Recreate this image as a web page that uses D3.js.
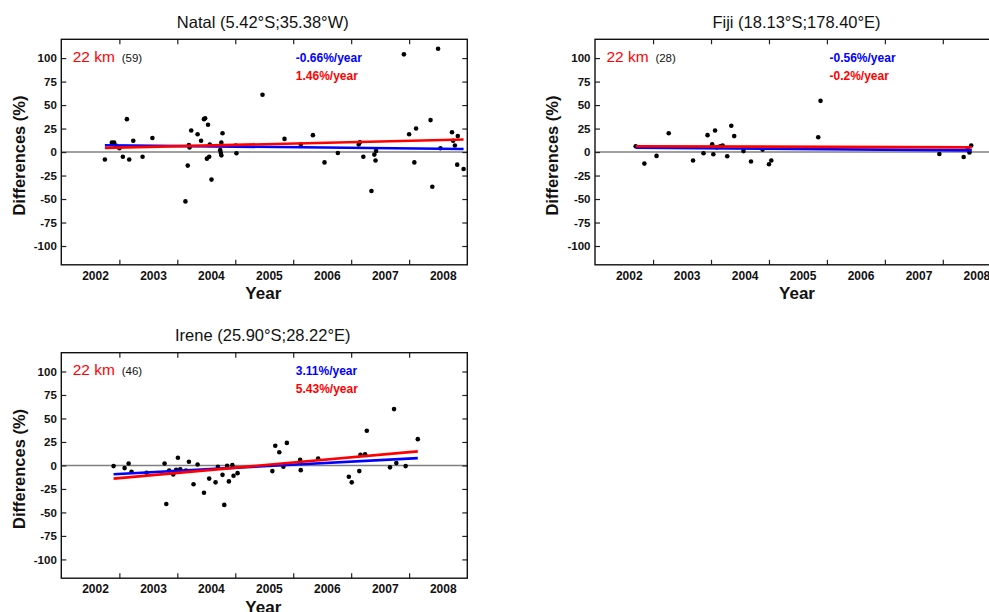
<!DOCTYPE html>
<html><head><meta charset="utf-8">
<script src="https://cdn.jsdelivr.net/npm/d3@7"></script>
<style>body{margin:0;background:#fff;} svg{display:block;font-family:Arial,"Liberation Sans",sans-serif;}</style>
</head><body>
<svg id="c" width="989" height="612"></svg>
<script>
// ---- data ----
const yearLabels = [2002, 2003, 2004, 2005, 2006, 2007, 2008];
const yearTicks = [2002.42, 2003.42, 2004.42, 2005.42, 2006.42, 2007.42];
const yTicks = [-100, -75, -50, -25, 0, 25, 50, 75, 100];
const xDomain = [2001.418, 2008.424];
const yDomain = [-120, 120];

const titles = ["Natal (5.42°S;35.38°W)", "Fiji (18.13°S;178.40°E)", "Irene (25.90°S;28.22°E)"];
const altitudeLabel = "22 km";
const counts = ["(59)", "(28)", "(46)"];
const blueRates = ["-0.66%/year", "-0.56%/year", "3.11%/year"];
const redRates = ["1.46%/year", "-0.2%/year", "5.43%/year"];

const natalX = [2002.17, 2002.29, 2002.33, 2002.36, 2002.42, 2002.55, 2002.48, 2002.59, 2002.66, 2002.82,
  2002.99, 2003.56, 2003.60, 2003.63, 2003.62, 2003.66, 2003.77, 2003.83, 2003.88, 2003.90,
  2003.95, 2003.98, 2003.93, 2003.97, 2004.01, 2004.20, 2004.18, 2004.16, 2004.17, 2004.18,
  2004.44, 2004.43, 2004.89, 2005.27, 2005.55, 2005.76, 2005.96, 2006.19, 2006.55, 2006.57,
  2006.63, 2006.77, 2006.82, 2006.84, 2006.85, 2007.33, 2007.42, 2007.54, 2007.51, 2007.79,
  2007.82, 2007.92, 2007.96, 2008.16, 2008.18, 2008.21, 2008.26, 2008.25, 2008.36];
const natalY = [-8, 10, 10, 7, 4, 35, -5, -8, 12, -5,
  15, -52.5, -14.4, 4.8, 7.5, 23, 19, 12, 35, 36,
  29, 8, -7, -5, -29.3, 20, 10, 2, -1, -3.5,
  -1.3, 7, 61, 14, 8, 18, -11, -1, 8, 10.5,
  -5, -41.5, -2.7, -9, 1.2, 104, 19, 25, -11, 34,
  -37, 110, 4, 21, 12, 7, 17, -13.4, -18];
const natalTrendX = [2002.17, 2008.36];
const natalBlue = [7.2, 3.3];
const natalRed = [4.4, 13.3];

const fijiX = [2002.12, 2002.27, 2002.48, 2002.69, 2003.11, 2003.29, 2003.36, 2003.44, 2003.46, 2003.49,
  2003.58, 2003.62, 2003.70, 2003.77, 2003.82, 2003.98, 2004.11, 2004.31, 2004.42, 2004.46,
  2005.31, 2005.27, 2007.36, 2007.78, 2007.88, 2007.91, 2003.52, 2007.85];
const fijiY = [6.2, -12.3, -4.1, 20, -9, -1.3, 18, 8.3, -2.4, 23,
  6.2, 7, -4.5, 28, 17, 1, -10, 2.6, -13, -9,
  54.5, 15.8, -2, -5.2, -0.5, 7, 5, 3];
const fijiTrendX = [2002.12, 2007.92];
const fijiBlue = [4.6, 1.8];
const fijiRed = [6.2, 5.0];

const ireneX = [2002.32, 2002.51, 2002.58, 2002.63, 2002.89, 2003.20, 2003.23, 2003.28, 2003.35, 2003.40,
  2003.43, 2003.57, 2003.62, 2003.70, 2003.77, 2003.88, 2003.97, 2004.08, 2004.12, 2004.20,
  2004.23, 2004.28, 2004.31, 2004.37, 2004.39, 2004.46, 2005.06, 2005.11, 2005.18, 2005.25,
  2005.31, 2005.54, 2005.55, 2005.85, 2006.38, 2006.43, 2006.56, 2006.58, 2006.66, 2006.69,
  2007.09, 2007.16, 2007.20, 2007.36, 2007.57, 2003.47];
const ireneY = [-0.7, -2.8, 2, -6.7, -7.8, 2, -41, -5.3, -9.6, -4.6,
  8.2, -5.3, 4, -20, 1, -29, -14, -18, -1.4, -10,
  -42, -0.4, -17, 0.3, -11, -8.2, -6, 21, 14, -1.4,
  24, 6, -5, 7.4, -12, -18, -6, 11.4, 12, 37,
  -2, 60, 2.5, -0.7, 28, -4];
const ireneTrendX = [2002.32, 2007.57];
const ireneBlue = [-9.3, 7.8];
const ireneRed = [-14, 15];

// ---- layout ----
const W = 406, H = 225.5;
const panels = [
  {x: 61.3, y: 39.3, title: titles[0], count: counts[0], blue: blueRates[0], red: redRates[0],
   px: natalX, py: natalY, tx: natalTrendX, tb: natalBlue, tr: natalRed},
  {x: 595, y: 39.3, title: titles[1], count: counts[1], blue: blueRates[1], red: redRates[1],
   px: fijiX, py: fijiY, tx: fijiTrendX, tb: fijiBlue, tr: fijiRed},
  {x: 61.3, y: 352.7, title: titles[2], count: counts[2], blue: blueRates[2], red: redRates[2],
   px: ireneX, py: ireneY, tx: ireneTrendX, tb: ireneBlue, tr: ireneRed}
];

const svg = d3.select("#c");
const x = d3.scaleLinear().domain(xDomain).range([0, W]);
const y = d3.scaleLinear().domain(yDomain).range([H, 0]);
const line = d3.line().x(d => x(d[0])).y(d => y(d[1]));
const plain = d => String(d);

panels.forEach(p => {
  const g = svg.append("g").attr("transform", `translate(${p.x},${p.y})`);

  // zero line
  g.append("line").attr("x1", 0).attr("x2", W).attr("y1", y(0)).attr("y2", y(0))
    .attr("stroke", "#808080").attr("stroke-width", 1.5);

  // axes
  const styleAxis = sel => {
    sel.select(".domain").remove();
    sel.selectAll(".tick line").attr("stroke", "#222").attr("stroke-width", 1.2);
  };
  g.append("g").call(d3.axisLeft(y).tickValues(yTicks).tickSize(-5).tickPadding(4.5).tickFormat(plain))
    .call(styleAxis)
    .selectAll("text").attr("font-size", 11.5).attr("font-weight", "bold").attr("fill", "#111")
    .attr("font-family", "Arial, 'Liberation Sans', sans-serif");
  g.append("g").attr("transform", `translate(${W},0)`)
    .call(d3.axisRight(y).tickValues(yTicks).tickSize(-5).tickFormat(""))
    .call(styleAxis);
  g.append("g").attr("transform", `translate(0,${H})`)
    .call(d3.axisBottom(x).tickValues(yearTicks).tickSize(-5).tickFormat(""))
    .call(styleAxis);
  g.append("g")
    .call(d3.axisTop(x).tickValues(yearTicks).tickSize(-5).tickFormat(""))
    .call(styleAxis);
  g.append("g").attr("transform", `translate(0,${H})`)
    .call(d3.axisBottom(x).tickValues(yearLabels).tickSize(0).tickPadding(6.2).tickFormat(plain))
    .call(sel => sel.select(".domain").remove())
    .selectAll("text").attr("font-size", 12).attr("font-weight", "bold").attr("fill", "#111")
    .attr("font-family", "Arial, 'Liberation Sans', sans-serif");

  // points
  g.append("g").selectAll("circle").data(p.px.map((v, i) => [v, p.py[i]])).join("circle")
    .attr("cx", d => x(d[0])).attr("cy", d => y(d[1])).attr("r", 2.3).attr("fill", "#000");

  // trend lines
  g.append("path").datum(p.tx.map((v, i) => [v, p.tb[i]])).attr("d", line)
    .attr("stroke", "#0000ff").attr("stroke-width", 2.6).attr("fill", "none");
  g.append("path").datum(p.tx.map((v, i) => [v, p.tr[i]])).attr("d", line)
    .attr("stroke", "#ff0000").attr("stroke-width", 2.6).attr("fill", "none");

  // border
  g.append("rect").attr("width", W).attr("height", H).attr("fill", "none")
    .attr("stroke", "#111").attr("stroke-width", 1.4);

  // annotations
  g.append("text").attr("x", 11.4).attr("y", 22.7).attr("fill", "#ff0000")
    .attr("font-size", 15.5).text(altitudeLabel);
  g.append("text").attr("x", 60.4).attr("y", 22.7).attr("fill", "#111")
    .attr("font-size", 11.5).text(p.count);
  g.append("text").attr("x", 234.5).attr("y", 22.4).attr("fill", "#0000ff")
    .attr("font-size", 12).attr("font-weight", "bold").text(p.blue);
  g.append("text").attr("x", 234.5).attr("y", 40.6).attr("fill", "#ff0000")
    .attr("font-size", 12).attr("font-weight", "bold").text(p.red);

  // title
  g.append("text").attr("x", W / 2 - 1.5).attr("y", -11.3).attr("text-anchor", "middle")
    .attr("font-size", 16.5).attr("fill", "#111").text(p.title);
  // axis titles
  g.append("text").attr("x", W / 2 - 1).attr("y", H + 34.7).attr("text-anchor", "middle")
    .attr("font-size", 17).attr("font-weight", "bold").attr("fill", "#111").text("Year");
  g.append("text").attr("transform", `translate(${-42.6},${H / 2 + 3.5}) rotate(-90)`)
    .attr("text-anchor", "middle").attr("dominant-baseline", "central")
    .attr("font-size", 16.5).attr("font-weight", "bold").attr("fill", "#111").text("Differences (%)");
});
</script>
</body></html>
